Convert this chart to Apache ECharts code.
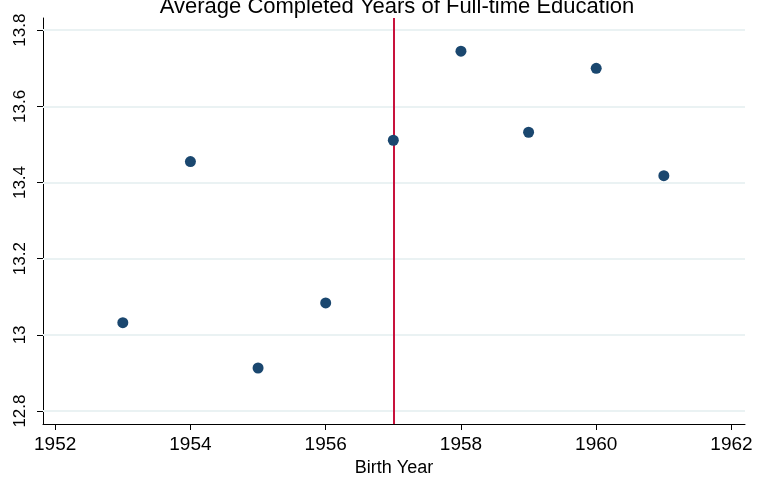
<!DOCTYPE html>
<html>
<head>
<meta charset="utf-8">
<script src="https://cdn.jsdelivr.net/npm/echarts@6/dist/echarts.min.js"></script>
<style>
  html, body { margin: 0; padding: 0; background: #fff; }
  #chart { width: 758px; height: 478px; }
</style>
</head>
<body>
<div id="chart"></div>
<script>
// 数据
const years = [1953, 1954, 1955, 1956, 1957, 1958, 1959, 1960, 1961]
const eduYears = [13.032, 13.455, 12.913, 13.084, 13.511, 13.745, 13.532, 13.700, 13.418]
const xTicks = [1952, 1954, 1956, 1958, 1960, 1962]
const yTicks = [12.8, 13, 13.2, 13.4, 13.6, 13.8]
const cutoffYear = 1957

const chart = echarts.init(document.getElementById('chart'))
const font = 'Liberation Sans, Arial, sans-serif'

chart.setOption({
  animation: false,
  title: {
    text: 'Average Completed Years of Full-time Education',
    left: 392,
    textAlign: 'center',
    top: -9,
    textStyle: { fontFamily: font, fontSize: 22, fontWeight: 'normal', color: '#000' },
  },
  grid: { left: 43, right: 13, top: 18, bottom: 54, outerBoundsMode: 'none', containLabel: false },
  xAxis: {
    type: 'value',
    min: 1951.82,
    max: 1962.2,
    name: 'Birth Year',
    nameLocation: 'middle',
    nameGap: 35,
    nameTextStyle: { fontFamily: font, fontSize: 18, color: '#000' },
    axisLine: { onZero: false, lineStyle: { color: '#000', width: 1 } },
    axisTick: { show: true, length: 6, customValues: xTicks, lineStyle: { color: '#000' } },
    axisLabel: {
      customValues: xTicks, margin: 11, fontFamily: font, fontSize: 19, color: '#000',
      formatter: v => String(v),
    },
    splitLine: { show: false },
  },
  yAxis: {
    type: 'value',
    min: 12.766,
    max: 13.832,
    axisLine: { show: true, onZero: false, lineStyle: { color: '#000', width: 1 } },
    axisTick: { show: true, length: 6, customValues: yTicks, lineStyle: { color: '#000' } },
    axisLabel: {
      customValues: yTicks, rotate: 90, margin: 14,
      fontFamily: font, fontSize: 17, color: '#000',
      formatter: v => String(Math.round(v * 10) / 10),
    },
    splitLine: { show: false },
  },
  series: [
    {
      type: 'scatter',
      data: years.map((y, i) => [y, eduYears[i]]),
      symbolSize: 11,
      itemStyle: { color: '#1a476f', opacity: 1 },
      z: 5,
      markLine: {
        silent: true,
        symbol: 'none',
        label: { show: false },
        lineStyle: { color: '#eaf2f3', width: 2, type: 'solid' },
        data: yTicks.map(v => ({ yAxis: v })),
        z: 1,
      },
    },
    {
      type: 'scatter',
      data: [],
      z: 3,
      markLine: {
        silent: true,
        symbol: 'none',
        label: { show: false },
        lineStyle: { color: '#c8123c', width: 2, type: 'solid' },
        data: [{ xAxis: cutoffYear }],
      },
    },
  ],
})
</script>
</body>
</html>
